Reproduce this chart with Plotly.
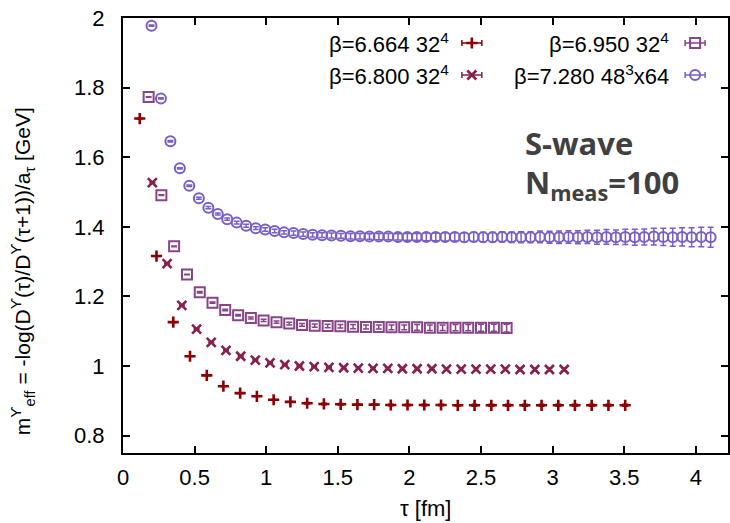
import plotly.graph_objects as go

# Effective mass of the Upsilon (S-wave) correlator vs Euclidean time, four lattices

# beta = 6.664, 32^4
tau_6664 = [0.117, 0.234, 0.351, 0.468, 0.585, 0.701, 0.818, 0.935, 1.052, 1.169,
            1.286, 1.403, 1.520, 1.637, 1.754, 1.870, 1.987, 2.104, 2.221, 2.338,
            2.455, 2.572, 2.689, 2.806, 2.923, 3.040, 3.156, 3.273, 3.390, 3.507]
meff_6664 = [1.711, 1.316, 1.126, 1.028, 0.973, 0.942, 0.922, 0.913, 0.903, 0.897,
             0.893, 0.891, 0.890, 0.889, 0.889, 0.888, 0.888, 0.888, 0.888, 0.887,
             0.887, 0.887, 0.887, 0.887, 0.887, 0.887, 0.887, 0.887, 0.887, 0.887]
err_6664 = [0.001, 0.001, 0.001, 0.001, 0.001, 0.001, 0.001, 0.001, 0.001, 0.001,
            0.002, 0.002, 0.002, 0.002, 0.002, 0.002, 0.002, 0.002, 0.002, 0.002,
            0.003, 0.003, 0.003, 0.003, 0.003, 0.003, 0.003, 0.003, 0.003, 0.003]

# beta = 6.800, 32^4
tau_6800 = [0.205, 0.308, 0.411, 0.514, 0.616, 0.719, 0.822, 0.924, 1.027, 1.130,
            1.232, 1.335, 1.438, 1.541, 1.643, 1.746, 1.849, 1.951, 2.054, 2.157,
            2.259, 2.362, 2.465, 2.568, 2.670, 2.773, 2.876, 2.978, 3.081]
meff_6800 = [1.527, 1.294, 1.174, 1.106, 1.068, 1.045, 1.028, 1.017, 1.009, 1.004,
             1.000, 0.998, 0.996, 0.995, 0.994, 0.993, 0.993, 0.992, 0.992, 0.992,
             0.991, 0.991, 0.991, 0.991, 0.991, 0.990, 0.990, 0.990, 0.990]
err_6800 = [0.001, 0.001, 0.001, 0.001, 0.001, 0.001, 0.002, 0.002, 0.002, 0.002,
            0.002, 0.002, 0.002, 0.003, 0.003, 0.003, 0.003, 0.003, 0.003, 0.003,
            0.004, 0.004, 0.004, 0.004, 0.004, 0.004, 0.004, 0.004, 0.004]

# beta = 6.950, 32^4
tau_6950 = [0.179, 0.268, 0.357, 0.447, 0.536, 0.625, 0.714, 0.804, 0.893, 0.982,
            1.072, 1.161, 1.250, 1.339, 1.429, 1.518, 1.607, 1.697, 1.786, 1.875,
            1.964, 2.054, 2.143, 2.232, 2.322, 2.411, 2.500, 2.590, 2.679]
meff_6950 = [1.773, 1.491, 1.344, 1.263, 1.212, 1.182, 1.161, 1.146, 1.138, 1.131,
             1.126, 1.122, 1.118, 1.116, 1.115, 1.114, 1.113, 1.112, 1.112, 1.111,
             1.111, 1.111, 1.110, 1.110, 1.110, 1.110, 1.110, 1.110, 1.109]
err_6950 = [0.001, 0.001, 0.001, 0.001, 0.002, 0.002, 0.002, 0.002, 0.003, 0.003,
            0.003, 0.004, 0.004, 0.005, 0.005, 0.005, 0.006, 0.006, 0.006, 0.007,
            0.007, 0.008, 0.008, 0.008, 0.009, 0.009, 0.010, 0.010, 0.011]

# beta = 7.280, 48^3 x 64
tau_7280 = [0.199, 0.265, 0.331, 0.397, 0.463, 0.530, 0.596, 0.662, 0.728, 0.794,
            0.860, 0.927, 0.993, 1.059, 1.125, 1.191, 1.258, 1.324, 1.390, 1.456,
            1.522, 1.589, 1.655, 1.721, 1.787, 1.853, 1.920, 1.986, 2.052, 2.118,
            2.184, 2.250, 2.317, 2.383, 2.449, 2.515, 2.581, 2.648, 2.714, 2.780,
            2.846, 2.912, 2.979, 3.045, 3.111, 3.177, 3.243, 3.310, 3.376, 3.442,
            3.508, 3.574, 3.640, 3.707, 3.773, 3.839, 3.905, 3.971, 4.038, 4.104]
meff_7280 = [1.978, 1.769, 1.646, 1.568, 1.518, 1.482, 1.455, 1.437, 1.422, 1.412,
             1.403, 1.396, 1.392, 1.388, 1.384, 1.382, 1.379, 1.377, 1.376, 1.375,
             1.374, 1.373, 1.373, 1.372, 1.372, 1.372, 1.371, 1.371, 1.371, 1.371,
             1.371, 1.371, 1.371, 1.370, 1.371, 1.370, 1.370, 1.371, 1.370, 1.370,
             1.370, 1.371, 1.370, 1.370, 1.371, 1.370, 1.371, 1.370, 1.371, 1.370,
             1.371, 1.370, 1.371, 1.372, 1.371, 1.370, 1.371, 1.370, 1.371, 1.370]
err_7280 = [0.002, 0.002, 0.002, 0.002, 0.002, 0.003, 0.003, 0.003, 0.003, 0.004,
            0.004, 0.004, 0.005, 0.005, 0.005, 0.006, 0.006, 0.006, 0.007, 0.007,
            0.007, 0.008, 0.008, 0.008, 0.009, 0.009, 0.009, 0.010, 0.010, 0.011,
            0.011, 0.012, 0.012, 0.013, 0.013, 0.014, 0.014, 0.015, 0.015, 0.016,
            0.016, 0.017, 0.017, 0.018, 0.018, 0.019, 0.019, 0.020, 0.021, 0.021,
            0.022, 0.023, 0.023, 0.024, 0.025, 0.026, 0.026, 0.027, 0.028, 0.029]

series_labels = ["β=6.664 32<sup>4</sup>", "β=6.800 32<sup>4</sup>",
                 "β=6.950 32<sup>4</sup>", "β=7.280 48<sup>3</sup>x64"]

# ---- styling -------------------------------------------------------------
W, H = 730, 523
ML, MR, MT, MB = 123, 0, 18, 70
FONT = "Liberation Sans, Arial, sans-serif"

styles = [
    dict(color="#8b0000", symbol="cross-thin-open", size=8, lw=2.6),
    dict(color="#84214f", symbol="x-thin-open", size=9, lw=2.6),
    dict(color="#884488", symbol="square-open", size=10, lw=2.0),
    dict(color="#7a5ec8", symbol="circle-open", size=10, lw=2.0),
]

datasets = [
    (tau_6664, meff_6664, err_6664),
    (tau_6800, meff_6800, err_6800),
    (tau_6950, meff_6950, err_6950),
    (tau_7280, meff_7280, err_7280),
]

fig = go.Figure()

for (xs, ys, es), st, name in zip(datasets, styles, series_labels):
    fig.add_trace(go.Scatter(
        x=xs, y=ys, mode="markers", name=name, showlegend=False,
        marker=dict(symbol=st["symbol"], size=st["size"], color=st["color"],
                    line=dict(color=st["color"], width=st["lw"])),
        error_y=dict(type="data", array=es, visible=True, color=st["color"],
                     thickness=1.5, width=3),
    ))

# ---- key: text on the left, sample (point with horizontal bar) on the right
plot_w = W - ML - MR
plot_h = H - MT - MB


def px_x(px):
    return (px - ML) / plot_w


def px_y(py):
    return (H - MB - py) / plot_h


key_rows = [43, 75]
key_text_right = [452, 673]
key_sample_x = [473, 697]
key_cells = [(0, 0), (1, 0), (0, 1), (1, 1)]  # (row, column) per series
half_bar = 10 / plot_w

for (row, col), st, name in zip(key_cells, styles, series_labels):
    fig.add_annotation(
        x=px_x(key_text_right[col]), y=px_y(key_rows[row]),
        xref="paper", yref="paper", xanchor="right", yanchor="middle",
        text=name, showarrow=False, font=dict(family=FONT, size=22, color="black"),
    )
    fig.add_trace(go.Scatter(
        x=[px_x(key_sample_x[col])], y=[px_y(key_rows[row])],
        xaxis="x2", yaxis="y2", mode="markers", showlegend=False,
        marker=dict(symbol=st["symbol"], size=st["size"], color=st["color"],
                    line=dict(color=st["color"], width=st["lw"])),
        error_x=dict(type="constant", value=half_bar, visible=True,
                     color=st["color"], thickness=1.5, width=3),
        hoverinfo="skip",
    ))

# ---- text inside the frame
fig.add_annotation(
    x=px_x(524), y=px_y(143), xref="paper", yref="paper",
    xanchor="left", yanchor="middle", showarrow=False,
    text="<b>S-wave</b>", font=dict(family="Open Sans", size=31, color="#404040"),
)
fig.add_annotation(
    x=px_x(524), y=px_y(184), xref="paper", yref="paper",
    xanchor="left", yanchor="middle", showarrow=False,
    text="<b>N<sub>meas</sub>=100</b>", font=dict(family="Open Sans", size=31, color="#404040"),
)

# ---- axis titles
fig.add_annotation(
    x=px_x(22), y=px_y(271), xref="paper", yref="paper",
    xanchor="center", yanchor="middle", showarrow=False, textangle=-90,
    text="m<sup>ϒ</sup><sub>eff</sub> = -log(D<sup>ϒ</sup>(τ)/D<sup>ϒ</sup>(τ+1))/a<sub>τ</sub> [GeV]",
    font=dict(family=FONT, size=21, color="black"),
)
fig.add_annotation(
    x=px_x(426), y=px_y(508), xref="paper", yref="paper",
    xanchor="center", yanchor="middle", showarrow=False,
    text="τ [fm]", font=dict(family=FONT, size=22, color="black"),
)

axis_common = dict(
    showline=True, linecolor="black", linewidth=2, mirror="ticks",
    ticks="inside", ticklen=7, tickwidth=1.5, tickcolor="black",
    showgrid=False, zeroline=False,
    tickfont=dict(family=FONT, size=22, color="black"),
)

fig.update_layout(
    width=W, height=H,
    margin=dict(l=ML, r=MR, t=MT, b=MB, pad=0),
    paper_bgcolor="white", plot_bgcolor="white",
    xaxis=dict(range=[0, 4.225], dtick=0.5, tick0=0, ticklabelstandoff=4, **axis_common),
    yaxis=dict(range=[0.75, 2.0], dtick=0.2, tick0=0.8, ticklabelstandoff=12, **axis_common),
    xaxis2=dict(range=[0, 1], overlaying="x", visible=False, domain=[0, 1]),
    yaxis2=dict(range=[0, 1], overlaying="y", visible=False, domain=[0, 1]),
    showlegend=False,
)

fig.write_html("out.html")
